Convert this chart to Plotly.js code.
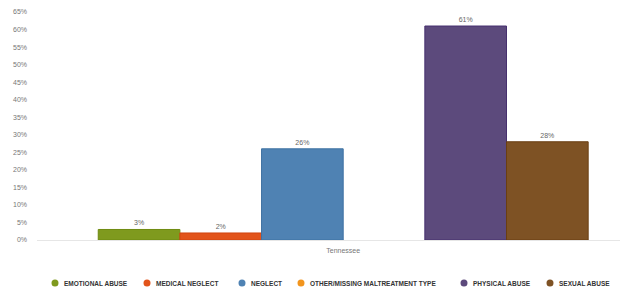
<!DOCTYPE html>
<html><head><meta charset="utf-8">
<script src="https://cdn.plot.ly/plotly-3.0.1.min.js"></script>
<style>body{margin:0;background:#fff}#c{width:623px;height:292px}</style>
</head><body><div id="c"></div>
<script>
const categories = ["Tennessee"];
const seriesNames = ["EMOTIONAL ABUSE","MEDICAL NEGLECT","NEGLECT","OTHER/MISSING MALTREATMENT TYPE","PHYSICAL ABUSE","SEXUAL ABUSE"];
const seriesValues = [3, 2, 26, 0, 61, 28];
const seriesLabels = ["3%","2%","26%","","61%","28%"];
const yTickVals = [0,5,10,15,20,25,30,35,40,45,50,55,60,65];
const yTickText = yTickVals.map(v => v + "%");
const colors = ["#7f9a1e","#e2541b","#4f82b3","#f2951e","#5c4a7c","#7e5224"];
const borders = ["#6f8a10","#d04510","#3f72a3","#e08510","#46306e","#6a3e12"];
// legend layout (pixel positions of entries)
const legendDotX = [55, 147, 242, 301, 464, 550];
const legendY = 283;
const L = 37, R = 3, T = 12, B = 52, W = 623, H = 292;
const pw = W - L - R, ph = H - T - B;
const fx = px => (px - L) / pw;
const fy = py => (H - B - py) / ph;

const traces = seriesNames.map((n,i)=>({
  type:"bar", name:n, x:categories, y:[seriesValues[i]],
  text:[seriesLabels[i]], textposition:"outside", cliponaxis:false,
  textfont:{size:7,color:"#666",family:"Liberation Sans"},
  marker:{color:colors[i], line:{color:borders[i], width: seriesValues[i] > 0 ? 1 : 0}},
  hoverinfo:"none", showlegend:false
}));
const shapes = seriesNames.map((n,i)=>({
  type:"circle", xref:"paper", yref:"paper", xsizemode:"pixel", ysizemode:"pixel",
  xanchor:fx(legendDotX[i]), yanchor:fy(legendY), x0:-3.5, x1:3.5, y0:-3.5, y1:3.5,
  fillcolor:colors[i], line:{width:0}
}));
const annotations = seriesNames.map((n,i)=>({
  xref:"paper", yref:"paper", x:fx(legendDotX[i] + 7), y:fy(legendY), xanchor:"left", yanchor:"middle",
  text:n, showarrow:false, font:{size:6.5, color:"#333", family:"Liberation Sans Narrow, Liberation Sans", weight:"bold"}
}));
Plotly.newPlot("c", traces, {
  width:W, height:H,
  margin:{l:L, r:R, t:T, b:B},
  barmode:"group", bargap:0.2, bargroupgap:0,
  paper_bgcolor:"#fff", plot_bgcolor:"#fff",
  xaxis:{range:[-0.5,0.452], showgrid:false, zeroline:false, showline:true, linecolor:"#e6e6e6", linewidth:1,
    ticks:"", tickfont:{size:7,color:"#777",family:"Liberation Sans"}, fixedrange:true, type:"category", ticklabelstandoff:4},
  yaxis:{range:[0,65], tickvals:yTickVals, ticktext:yTickText, showgrid:false, zeroline:false, showline:false,
    ticks:"", tickfont:{size:7,color:"#777",family:"Liberation Sans"}, ticklabelstandoff:9},
  showlegend:false,
  shapes:shapes, annotations:annotations,
  font:{family:"Liberation Sans"}
}, {staticPlot:true});
</script></body></html>
